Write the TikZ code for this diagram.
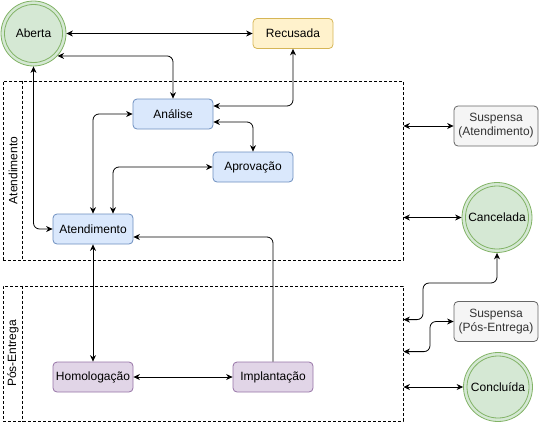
\documentclass[tikz,border=0pt]{standalone}
\usepackage{fontspec}
\setmainfont{Liberation Sans}
\usetikzlibrary{arrows.meta,calc}
\definecolor{gfill}{HTML}{D5E8D4}\definecolor{gline}{HTML}{82B366}
\definecolor{yfill}{HTML}{FFF2CC}\definecolor{yline}{HTML}{D6B656}
\definecolor{bfill}{HTML}{DAE8FC}\definecolor{bline}{HTML}{6C8EBF}
\definecolor{pfill}{HTML}{E1D5E7}\definecolor{pline}{HTML}{9673A6}
\definecolor{sfill}{HTML}{F5F5F5}\definecolor{sline}{HTML}{666666}
\definecolor{stext}{HTML}{333333}
\tikzset{
  base/.style={font=\fontsize{12}{14}\selectfont, inner sep=0pt, line width=0.8pt},
  box/.style={base, draw, rectangle, rounded corners=4pt, minimum width=80pt, minimum height=30pt},
  bluebox/.style={box, fill=bfill, draw=bline},
  yellowbox/.style={box, fill=yfill, draw=yline},
  purplebox/.style={box, fill=pfill, draw=pline},
  graybox/.style={box, fill=sfill, draw=sline, text=stext, align=center, minimum width=84pt, minimum height=40pt},
  state/.style={base, circle, draw=gline, fill=gfill},
  lane/.style={draw, line width=0.8pt, dash pattern=on 3pt off 2pt, minimum width=400pt, inner sep=0pt},
  lanelabel/.style={base, rotate=90},
  conn/.style={line width=0.8pt, rounded corners=6pt, >={Stealth[length=6.5pt,width=6pt]}},
}
\begin{document}
\begin{tikzpicture}[x=1pt,y=-1pt]
\useasboundingbox (0,0) rectangle (545,423);
% lanes
\node[lane, minimum height=179pt] (lane1) at (203,170.5) {};
\node[lane, minimum height=135pt] (lane2) at (203,353.5) {};
\draw[line width=0.8pt, dash pattern=on 3pt off 2pt] ([xshift=20pt]lane1.north west) -- ([xshift=20pt]lane1.south west);
\draw[line width=0.8pt, dash pattern=on 3pt off 2pt] ([xshift=20pt]lane2.north west) -- ([xshift=20pt]lane2.south west);
\node[lanelabel] (l1) at (13,170.5) {Atendimento};
\node[lanelabel] (l2) at (13,353.5) {Pós-Entrega};
% states
\node[state, minimum size=65pt] (aberta) at (33.5,33.5) {Aberta};
\draw[gline, line width=0.8pt] (aberta.center) circle[radius=29pt];
\node[state, minimum size=70pt] (cancelada) at (497,217.5) {};
\draw[gline, line width=0.8pt] (cancelada.center) circle[radius=31.5pt];
\node[base] at (cancelada.center) {Cancelada};
\node[state, minimum size=69pt] (concluida) at (498,387) {};
\draw[gline, line width=0.8pt] (concluida.center) circle[radius=31pt];
\node[base] at (concluida.center) {Concluída};
% boxes
\node[yellowbox] (recusada) at (293,33.5) {Recusada};
\node[bluebox] (analise) at (173,114) {Análise};
\node[bluebox] (aprovacao) at (253,167) {Aprovação};
\node[bluebox] (atendimento) at (93,229) {Atendimento};
\node[purplebox] (homologacao) at (93,377) {Homologação};
\node[purplebox] (implantacao) at (273,377) {Implantação};
\node[graybox] (suspA) at (496,126) {Suspensa\\(Atendimento)};
\node[graybox] (suspP) at (496,321.5) {Suspensa\\(Pós-Entrega)};
% helper coordinates
\coordinate (k1) at (423,283);
\coordinate (k2) at (430,337);
\coordinate (p1) at ([yshift=-34pt]lane2.north east);
\coordinate (p2) at ([yshift=-66pt]lane2.north east);
% connectors
\draw[conn,<->] (aberta.east) -- (recusada.west);
\draw[conn,<->] (aberta.-43) -| (analise.north);
\draw[conn,<->] (recusada.south) |- ([yshift=8pt]analise.east);
\draw[conn,<->] ([yshift=-8pt]analise.east) -| (aprovacao.north);
\draw[conn,<->] (analise.west) -| (atendimento.north);
\draw[conn,<->] (aprovacao.west) -| ([xshift=20pt]atendimento.north);
\draw[conn,<->] (aberta.south) |- (atendimento.west);
\draw[conn,<->] (atendimento.south) -- (homologacao.north);
\draw[conn,<->] (homologacao.east) -- (implantacao.west);
\draw[conn,->] (implantacao.north) |- ([yshift=-8pt]atendimento.east);
\draw[conn,<->] (lane1.east |- suspA.west) -- (suspA.west);
\draw[conn,<->] (lane1.east |- cancelada.west) -- (cancelada.west);
\draw[conn,<->] (cancelada.south) |- (k1) |- (p1);
\draw[conn,<->] (p2) -| (k2) |- (suspP.west);
\draw[conn,<->] (lane2.east |- concluida.west) -- (concluida.west);
\end{tikzpicture}
\end{document}
